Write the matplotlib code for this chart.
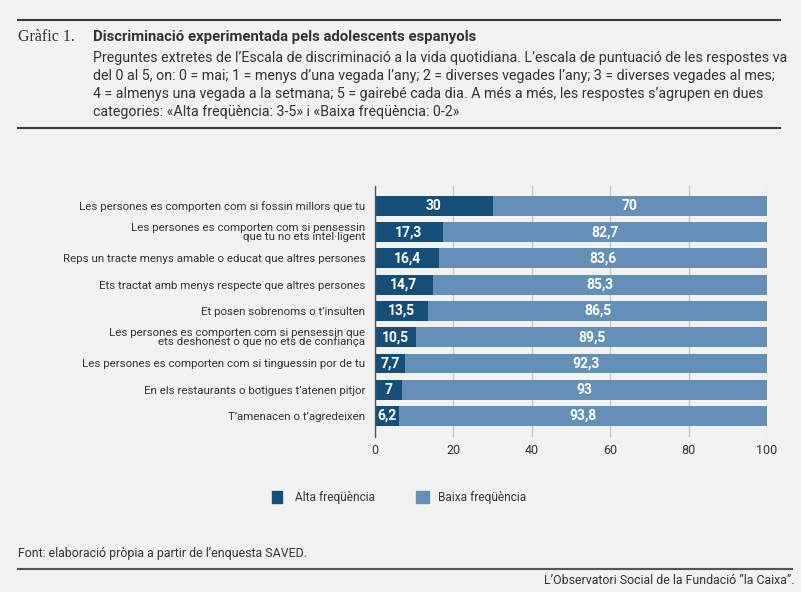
import matplotlib
matplotlib.use("Agg")
import matplotlib.pyplot as plt
from matplotlib.lines import Line2D
from matplotlib.patches import Rectangle

categories = [
    "Les persones es comporten com si fossin millors que tu",
    "Les persones es comporten com si pensessin\nque tu no ets intel·ligent",
    "Reps un tracte menys amable o educat que altres persones",
    "Ets tractat amb menys respecte que altres persones",
    "Et posen sobrenoms o t’insulten",
    "Les persones es comporten com si pensessin que\nets deshonest o que no ets de confiança",
    "Les persones es comporten com si tinguessin por de tu",
    "En els restaurants o botigues t’atenen pitjor",
    "T’amenacen o t’agredeixen",
]
alta = [30, 17.3, 16.4, 14.7, 13.5, 10.5, 7.7, 7, 6.2]
baixa = [70, 82.7, 83.6, 85.3, 86.5, 89.5, 92.3, 93, 93.8]
xticks = [0, 20, 40, 60, 80, 100]
series_names = ["Alta freqüència", "Baixa freqüència"]

BG = "#f2f2f2"
DARK = "#154f79"
LIGHT = "#6490b7"
TXT = "#333333"
FONT = ["Roboto", "DejaVu Sans"]
plt.rcParams["font.family"] = FONT

W, H = 801, 592
fig = plt.figure(figsize=(W / 100, H / 100), dpi=100, facecolor=BG)

def fx(px):
    return px / W

def fy(py):
    return 1 - py / H

# header lines
fig.add_artist(Line2D([fx(18), fx(780)], [fy(20), fy(20)], color="#3a3a3a", lw=1.5))
fig.add_artist(Line2D([fx(18), fx(780)], [fy(128), fy(128)], color="#3a3a3a", lw=1.5))

fig.text(fx(18), fy(37), "Gràfic 1.", family=["Liberation Serif", "DejaVu Serif"],
         fontsize=11.5, color=TXT, va="center", ha="left")
fig.text(fx(93), fy(37), "Discriminació experimentada pels adolescents espanyols",
         fontsize=10.7, fontweight="bold", color=TXT, va="center", ha="left")
subtitle = ("Preguntes extretes de l’Escala de discriminació a la vida quotidiana. L’escala de puntuació de les respostes va\n"
            "del 0 al 5, on: 0 = mai; 1 = menys d’una vegada l’any; 2 = diverses vegades l’any; 3 = diverses vegades al mes;\n"
            "4 = almenys una vegada a la setmana; 5 = gairebé cada dia. A més a més, les respostes s’agrupen en dues\n"
            "categories: «Alta freqüència: 3-5» i «Baixa freqüència: 0-2»")
fig.text(fx(93), fy(51), subtitle, fontsize=10.25, color=TXT, va="top", ha="left",
         linespacing=1.36)

# axes
ax = fig.add_axes([fx(375), fy(437), fx(767) - fx(375), fy(186) - fy(437)])
ax.set_facecolor(BG)
y = list(range(len(categories)))
h = 0.76
ax.barh(y, alta, height=h, color=DARK, zorder=3, label=series_names[0])
ax.barh(y, baixa, left=alta, height=h, color=LIGHT, zorder=3, label=series_names[1])
for i in y:
    ax.text(alta[i] / 2, i, f"{alta[i]:g}".replace(".", ","), ha="center", va="center",
            color="white", fontsize=10, fontweight="bold", zorder=4)
    ax.text(alta[i] + baixa[i] / 2, i, f"{baixa[i]:g}".replace(".", ","), ha="center",
            va="center", color="white", fontsize=10, fontweight="bold", zorder=4)

ax.set_xlim(0, 100)
ax.set_ylim(8.8, -0.76)
ax.set_xticks(xticks)
ax.set_xticklabels([str(t) for t in xticks], fontsize=9)
ax.set_yticks(y)
ax.set_yticklabels(categories, linespacing=0.85, fontsize=8.25)
ax.tick_params(axis="both", length=0, colors=TXT)
ax.tick_params(axis="y", pad=7)
ax.tick_params(axis="x", pad=5)
ax.grid(axis="x", color="#c8c8c8", lw=1, zorder=0)
for s in ["top", "right", "bottom"]:
    ax.spines[s].set_visible(False)
ax.spines["left"].set_color("#555555")
ax.spines["left"].set_linewidth(1)
ax.spines["left"].set_zorder(5)

# legend (manual)
fig.add_artist(Rectangle((fx(272), fy(503)), fx(10), fy(491) - fy(503), color=DARK,
                         transform=fig.transFigure))
fig.text(fx(295), fy(497), series_names[0], fontsize=8.6, color=TXT, va="center")
fig.add_artist(Rectangle((fx(416), fy(503)), fx(13), fy(491) - fy(503), color=LIGHT,
                         transform=fig.transFigure))
fig.text(fx(438), fy(497), series_names[1], fontsize=8.6, color=TXT, va="center")

# footer
fig.text(fx(18), fy(554), "Font: elaboració pròpia a partir de l’enquesta SAVED.",
         fontsize=8.9, color=TXT, va="center")
fig.add_artist(Line2D([fx(18), fx(792)], [fy(569), fy(569)], color="#555555", lw=1.5))
fig.text(fx(795), fy(580), "L’Observatori Social de la Fundació ”la Caixa”.",
         fontsize=8.9, color=TXT, va="center", ha="right")

fig.savefig("out.png", dpi=100, facecolor=BG)
